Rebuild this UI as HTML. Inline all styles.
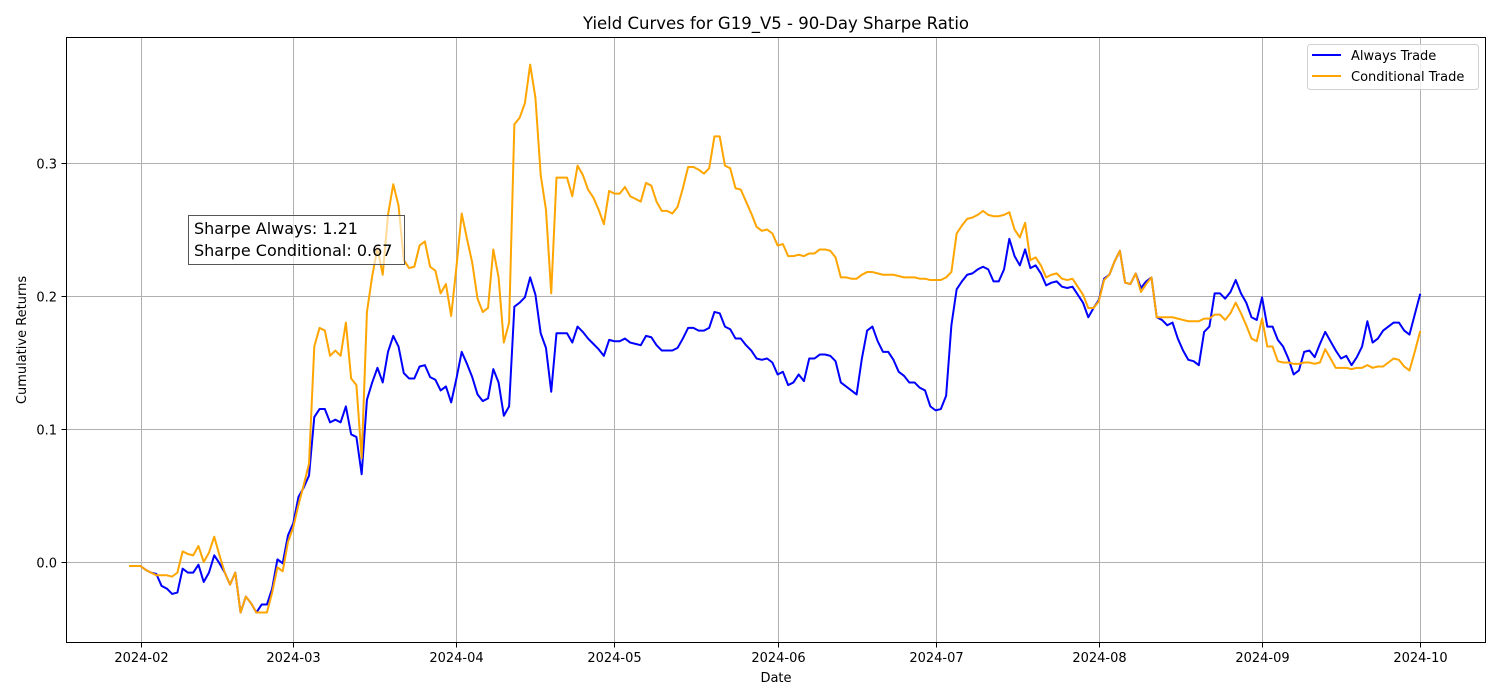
<!DOCTYPE html>
<html><head><meta charset="utf-8"><title>Yield Curves</title>
<style>
html,body{margin:0;padding:0;background:#fff;}
svg{display:block;font-family:"DejaVu Sans","Liberation Sans",sans-serif;}
</style></head>
<body>
<svg id="chart" width="1500" height="700" viewBox="0 0 1500 700" xmlns="http://www.w3.org/2000/svg"></svg>
<script>
const startDate = "2024-01-30";
const monthTicks = ["2024-02-01","2024-03-01","2024-04-01","2024-05-01","2024-06-01","2024-07-01","2024-08-01","2024-09-01","2024-10-01"];
const monthLabels = ["2024-02","2024-03","2024-04","2024-05","2024-06","2024-07","2024-08","2024-09","2024-10"];
const yTicks = [0.0, 0.1, 0.2, 0.3];
const yTickLabels = ["0.0", "0.1", "0.2", "0.3"];
const alwaysTrade = [
-0.003,-0.003,-0.003,-0.006,-0.008,-0.009,-0.018,-0.020,-0.024,-0.023,
-0.005,-0.008,-0.008,-0.002,-0.015,-0.008,0.005,-0.001,-0.008,-0.017,
-0.008,-0.038,-0.026,-0.031,-0.038,-0.032,-0.032,-0.020,0.002,-0.001,
0.020,0.029,0.049,0.056,0.065,0.109,0.115,0.115,0.105,0.107,
0.105,0.117,0.096,0.094,0.066,0.122,0.135,0.146,0.135,0.158,
0.170,0.162,0.142,0.138,0.138,0.147,0.148,0.139,0.137,0.129,
0.132,0.120,0.138,0.158,0.149,0.139,0.126,0.121,0.123,0.145,
0.135,0.110,0.117,0.192,0.195,0.199,0.214,0.201,0.172,0.161,
0.128,0.172,0.172,0.172,0.165,0.177,0.173,0.168,0.164,0.160,
0.155,0.167,0.166,0.166,0.168,0.165,0.164,0.163,0.170,0.169,
0.163,0.159,0.159,0.159,0.161,0.168,0.176,0.176,0.174,0.174,
0.176,0.188,0.187,0.177,0.175,0.168,0.168,0.163,0.159,0.153,
0.152,0.153,0.150,0.141,0.143,0.133,0.135,0.141,0.136,0.153,
0.153,0.156,0.156,0.155,0.151,0.135,0.132,0.129,0.126,0.153,
0.174,0.177,0.166,0.158,0.158,0.152,0.143,0.140,0.135,0.135,
0.131,0.129,0.117,0.114,0.115,0.125,0.178,0.205,0.211,0.216,
0.217,0.220,0.222,0.220,0.211,0.211,0.220,0.243,0.230,0.223,
0.235,0.221,0.223,0.217,0.208,0.210,0.211,0.207,0.206,0.207,
0.201,0.195,0.184,0.191,0.197,0.213,0.216,0.226,0.234,0.210,
0.209,0.217,0.206,0.211,0.214,0.184,0.182,0.178,0.180,0.168,
0.159,0.152,0.151,0.148,0.173,0.177,0.202,0.202,0.198,0.203,
0.212,0.202,0.195,0.184,0.182,0.199,0.177,0.177,0.167,0.162,
0.153,0.141,0.144,0.158,0.159,0.154,0.164,0.173,0.166,0.159,
0.153,0.155,0.148,0.154,0.162,0.181,0.165,0.168,0.174,0.177,
0.180,0.180,0.174,0.171,0.186,0.201];
const conditionalTrade = [
-0.003,-0.003,-0.003,-0.006,-0.008,-0.010,-0.010,-0.010,-0.011,-0.008,
0.008,0.006,0.005,0.012,0.000,0.007,0.019,0.005,-0.008,-0.017,
-0.008,-0.038,-0.026,-0.031,-0.038,-0.038,-0.038,-0.023,-0.004,-0.007,
0.015,0.026,0.043,0.058,0.074,0.162,0.176,0.174,0.155,0.159,
0.155,0.180,0.138,0.133,0.078,0.188,0.215,0.236,0.216,0.261,
0.284,0.268,0.227,0.221,0.222,0.238,0.241,0.222,0.219,0.202,
0.209,0.185,0.222,0.262,0.243,0.225,0.198,0.188,0.191,0.235,
0.214,0.165,0.180,0.329,0.334,0.345,0.374,0.349,0.291,0.265,
0.202,0.289,0.289,0.289,0.275,0.298,0.291,0.280,0.274,0.265,
0.254,0.279,0.277,0.277,0.282,0.275,0.273,0.271,0.285,0.283,
0.271,0.264,0.264,0.262,0.267,0.281,0.297,0.297,0.295,0.292,
0.296,0.320,0.320,0.298,0.296,0.281,0.280,0.271,0.262,0.252,
0.249,0.250,0.247,0.238,0.239,0.230,0.230,0.231,0.230,0.232,
0.232,0.235,0.235,0.234,0.229,0.214,0.214,0.213,0.213,0.216,
0.218,0.218,0.217,0.216,0.216,0.216,0.215,0.214,0.214,0.214,
0.213,0.213,0.212,0.212,0.212,0.214,0.218,0.247,0.253,0.258,
0.259,0.261,0.264,0.261,0.260,0.260,0.261,0.263,0.250,0.244,
0.255,0.227,0.229,0.223,0.214,0.216,0.217,0.213,0.212,0.213,
0.207,0.201,0.191,0.191,0.196,0.212,0.216,0.226,0.234,0.210,
0.209,0.217,0.203,0.209,0.214,0.184,0.184,0.184,0.184,0.183,
0.182,0.181,0.181,0.181,0.183,0.183,0.186,0.186,0.182,0.187,
0.195,0.187,0.178,0.168,0.166,0.183,0.162,0.162,0.151,0.150,
0.150,0.149,0.149,0.150,0.150,0.149,0.150,0.160,0.153,0.146,
0.146,0.146,0.145,0.146,0.146,0.148,0.146,0.147,0.147,0.150,
0.153,0.152,0.147,0.144,0.158,0.173];

const NS = "http://www.w3.org/2000/svg";
const svg = document.getElementById("chart");
const plot = {left: 66.5, right: 1485.5, top: 37.5, bottom: 642.5};
const DAY = 86400000;
const t0 = Date.parse(startDate + "T00:00:00Z");
const xStart = 130, xPerDay = 1290 / 245;
function xOfIndex(i){ return xStart + i * xPerDay; }
function xOfDate(s){ return xOfIndex((Date.parse(s + "T00:00:00Z") - t0) / DAY); }
function yOf(v){ return 562 - v * 1330; }
function el(tag, attrs, parent){
  const e = document.createElementNS(NS, tag);
  for (const k in attrs) e.setAttribute(k, attrs[k]);
  (parent || svg).appendChild(e);
  return e;
}

// title
const title = el("text", {x: 776, y: 29, "text-anchor": "middle", "font-size": 16.5, fill: "#000"});


title.textContent = "Yield Curves for G19_V5 - 90-Day Sharpe Ratio";

// grid + ticks
const grid = el("g", {});


monthTicks.forEach((d, i) => {
  const x = Math.round(xOfDate(d)) + 0.5;
  const gl = el("line", {x1: x, x2: x, y1: plot.top, y2: plot.bottom, stroke: "#b0b0b0", "stroke-width": 1}, grid);
  
  
  const tk = el("line", {x1: x, x2: x, y1: plot.bottom, y2: plot.bottom + 5, stroke: "#000", "stroke-width": 1});
  
  
  const lb = el("text", {x: x, y: 662, "text-anchor": "middle", "font-size": 13, fill: "#000"});
  
  
  lb.textContent = monthLabels[i];
});
yTicks.forEach((v, i) => {
  const y = Math.round(yOf(v)) + 0.5;
  const gl = el("line", {x1: plot.left, x2: plot.right, y1: y, y2: y, stroke: "#b0b0b0", "stroke-width": 1}, grid);
  
  
  const tk = el("line", {x1: plot.left - 5, x2: plot.left, y1: y, y2: y, stroke: "#000", "stroke-width": 1});
  
  
  const lb = el("text", {x: 57, y: y + 5, "text-anchor": "end", "font-size": 13, fill: "#000"});
  
  
  lb.textContent = yTickLabels[i];
});

// series
function drawSeries(vals, color, name){
  const pts = vals.map((v, i) => xOfIndex(i).toFixed(2) + "," + yOf(v).toFixed(2)).join(" ");
  const pl = el("polyline", {points: pts, fill: "none", stroke: color, "stroke-width": 2, "stroke-linejoin": "round", "stroke-linecap": "square"});
  
  
}
drawSeries(alwaysTrade, "#0000ff", "always-trade-line");
drawSeries(conditionalTrade, "#ffa500", "conditional-trade-line");

// frame
const frame = el("rect", {x: plot.left, y: plot.top, width: plot.right - plot.left, height: plot.bottom - plot.top, fill: "none", stroke: "#000", "stroke-width": 1});



// axis titles
const xt = el("text", {x: 776, y: 682, "text-anchor": "middle", "font-size": 13, fill: "#000"});


xt.textContent = "Date";
const yt = el("text", {x: 26, y: 340, "text-anchor": "middle", "font-size": 13, fill: "#000", transform: "rotate(-90 26 340)"});


yt.textContent = "Cumulative Returns";

// annotation
const ann = el("g", {});


el("rect", {x: 188.5, y: 215.5, width: 216, height: 49, fill: "rgba(255,255,255,0.6)", stroke: "#555", "stroke-width": 1}, ann);
const a1 = el("text", {x: 194, y: 234, "font-size": 16, fill: "#000"}, ann);


a1.textContent = "Sharpe Always: 1.21";
const a2 = el("text", {x: 194, y: 256, "font-size": 16, fill: "#000"}, ann);


a2.textContent = "Sharpe Conditional: 0.67";

// legend
const lg = el("g", {});


el("rect", {x: 1307.5, y: 44.5, width: 171, height: 45, rx: 3, fill: "rgba(255,255,255,0.8)", stroke: "#d0d0d0", "stroke-width": 1}, lg);
const le1 = el("g", {}, lg);


el("line", {x1: 1312, x2: 1341, y1: 55, y2: 55, stroke: "#0000ff", "stroke-width": 2}, le1);
const lt1 = el("text", {x: 1351, y: 60, "font-size": 13, fill: "#000"}, le1);
lt1.textContent = "Always Trade";
const le2 = el("g", {}, lg);


el("line", {x1: 1312, x2: 1341, y1: 76, y2: 76, stroke: "#ffa500", "stroke-width": 2}, le2);
const lt2 = el("text", {x: 1351, y: 81, "font-size": 13, fill: "#000"}, le2);
lt2.textContent = "Conditional Trade";
</script>
</body></html>
